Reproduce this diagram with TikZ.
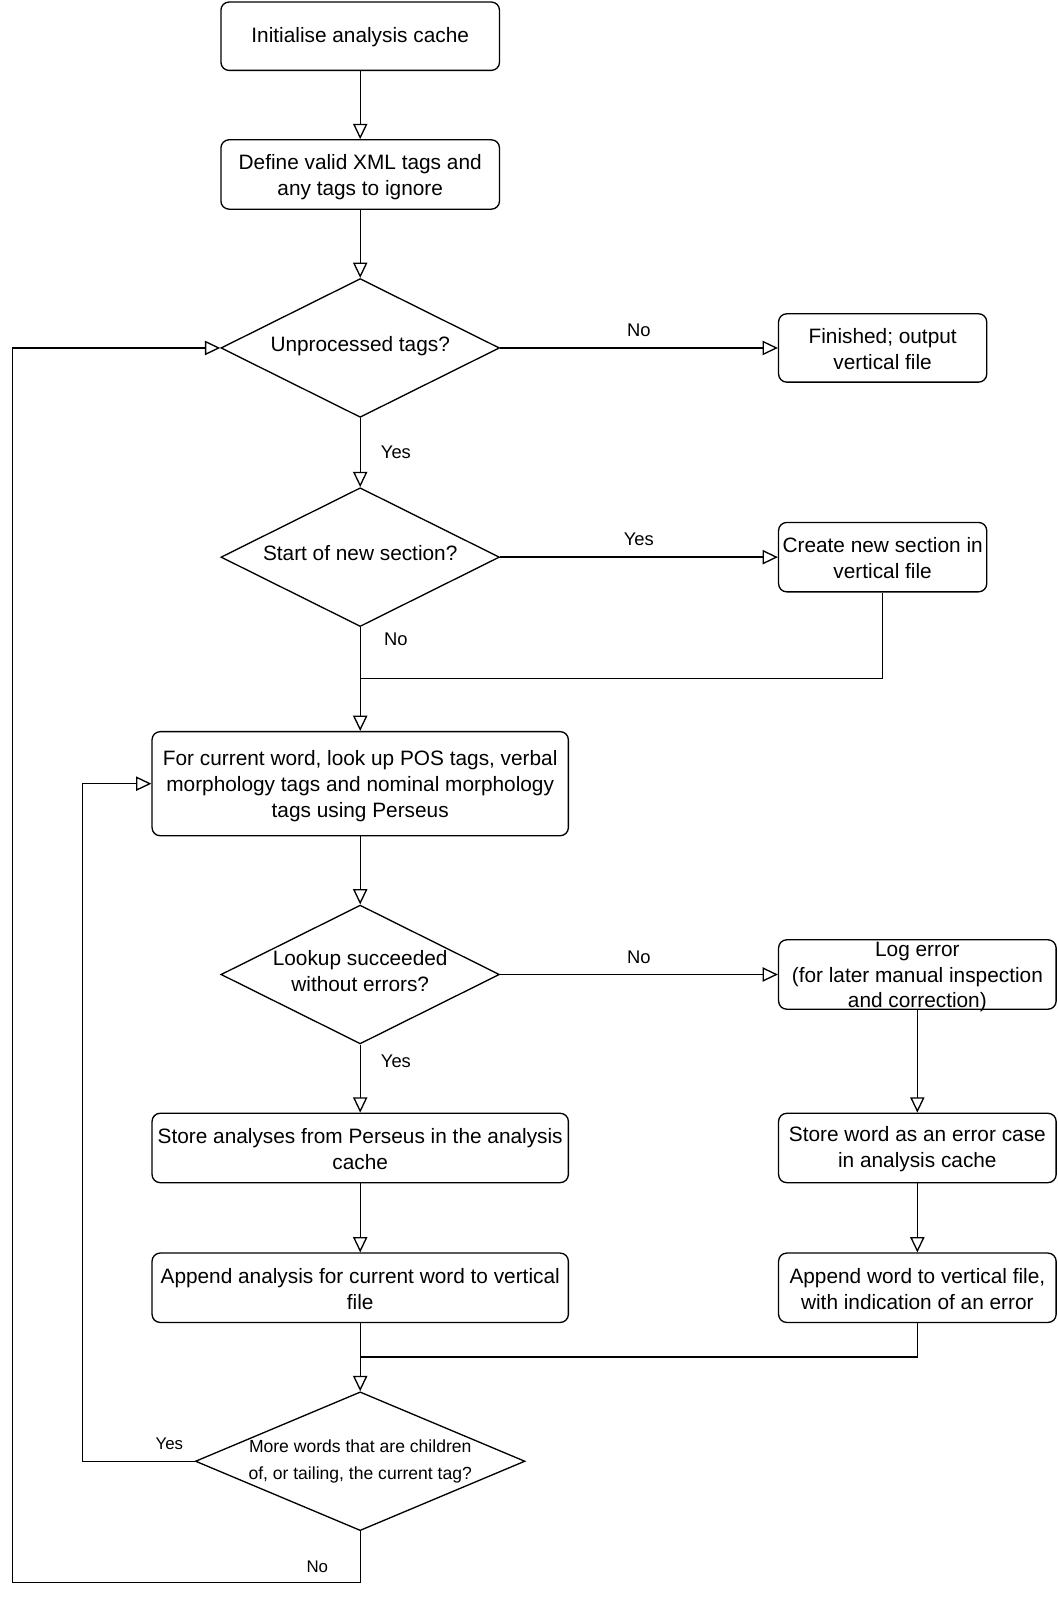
\documentclass[tikz,border=0pt]{standalone}
\usepackage{fontspec}
\setmainfont{Liberation Sans}
\usetikzlibrary{shapes.geometric,arrows.meta}
\begin{document}
\begin{tikzpicture}[x=1pt,y=-1pt,
  every node/.style={font=\fontsize{20.4}{25.3}\selectfont},
  box/.style={draw, rounded corners=8pt, inner sep=0pt, line width=1.3pt},
  btext/.style={label={[align=center, inner sep=0pt, yshift=-1pt]center:#1}},
  btextiii/.style={label={[align=center, inner sep=0pt, yshift=-2.5pt]center:#1}},
  dia/.style={draw, diamond, inner sep=0pt, line width=1.3pt},
  dtext/.style={align=center, yshift=4pt, inner sep=0pt},
  lbl/.style={font=\fontsize{18}{22}\selectfont, inner sep=0pt},
  slbl/.style={font=\fontsize{16.5}{20}\selectfont, inner sep=0pt},
  conn/.style={line width=1.3pt},
  arr/.style={conn, -{Triangle[open, length=15pt, width=14pt]}},
]
\useasboundingbox (0,0) rectangle (1036,1568);

\node[box, minimum width=273pt, minimum height=67pt,
  btext={Initialise analysis cache}] (b1) at (353,35.5) {};
\node[box, minimum width=273pt, minimum height=68pt,
  btextiii={Define valid XML tags and\\any tags to ignore}] (b2) at (353,171) {};
\node[dia, minimum width=273pt, minimum height=136pt,
  label={[dtext, yshift=-2pt]center:Unprocessed tags?}] (d1) at (353,341) {};
\node[box, minimum width=204pt, minimum height=67pt,
  btext={Finished; output\\vertical file}] (fin) at (865,341) {};
\node[dia, minimum width=273pt, minimum height=136pt,
  label={[dtext]center:Start of new section?}] (d2) at (353,546) {};
\node[box, minimum width=204pt, minimum height=68pt,
  btext={Create new section in\\vertical file}] (create) at (865,546) {};
\node[box, minimum width=408pt, minimum height=102pt,
  btextiii={For current word, look up POS tags, verbal\\morphology tags and nominal morphology\\tags using Perseus}] (word) at (353,768) {};
\node[dia, minimum width=273pt, minimum height=136pt,
  label={[dtext, yshift=-0.5pt]center:Lookup succeeded\\without errors?}] (d3) at (353,955) {};
\node[box, minimum width=272pt, minimum height=68pt,
  btextiii={Log error\\(for later manual inspection\\and correction)}] (log) at (899,955) {};
\node[box, minimum width=408pt, minimum height=68pt,
  btext={Store analyses from Perseus in the analysis\\cache}] (store1) at (353,1125) {};
\node[box, minimum width=272pt, minimum height=68pt,
  btext={Store word as an error case\\in analysis cache}] (store2) at (899,1125) {};
\node[box, minimum width=408pt, minimum height=68pt,
  btext={Append analysis for current word to vertical\\file}] (app1) at (353,1262) {};
\node[box, minimum width=272pt, minimum height=68pt,
  btext={Append word to vertical file,\\with indication of an error}] (app2) at (899,1262) {};
\node[dia, minimum width=323pt, minimum height=136pt,
  label={[align=center, inner sep=0pt, font=\fontsize{17.2}{26}\selectfont]center:More words that are children\\of, or tailing, the current tag?}] (d4) at (353,1432) {};

\coordinate (m1) at (353,665);
\coordinate (m2) at (353,1330);
\coordinate (yl) at (81,1432);
\coordinate (nb) at (353,1551);
\coordinate (nl) at (12,1551);

\draw[arr] (b1.south) -- (b2.north);
\draw[arr] (b2.south) -- (d1.north);
\draw[arr] (d1.east) -- (fin.west);
\draw[arr] (d1.south) -- (d2.north);
\draw[arr] (d2.east) -- (create.west);
\draw[conn] (d2.south) -- (m1);
\draw[conn] (create.south) |- (m1);
\draw[arr] (m1) -- (word.north);
\draw[arr] (word.south) -- (d3.north);
\draw[arr] (d3.east) -- (log.west);
\draw[arr] (d3.south) -- (store1.north);
\draw[arr] (log.south) -- (store2.north);
\draw[arr] (store1.south) -- (app1.north);
\draw[arr] (store2.south) -- (app2.north);
\draw[conn] (app1.south) -- (m2);
\draw[conn] (app2.south) |- (m2);
\draw[arr] (m2) -- (d4.north);
\draw[arr] (d4.west) -- (yl) |- (word.west);
\draw[arr] (d4.south) -- (nb) -- (nl) |- (d1.west);

\node[lbl] (l1) at (626,324) {No};
\node[lbl] (l2) at (388,443) {Yes};
\node[lbl] (l3) at (626,528) {Yes};
\node[lbl] (l4) at (388,626) {No};
\node[lbl] (l5) at (626,938) {No};
\node[lbl] (l6) at (388,1040) {Yes};
\node[slbl] (l7) at (166,1415) {Yes};
\node[slbl] (l8) at (311,1535) {No};
\end{tikzpicture}
\end{document}
